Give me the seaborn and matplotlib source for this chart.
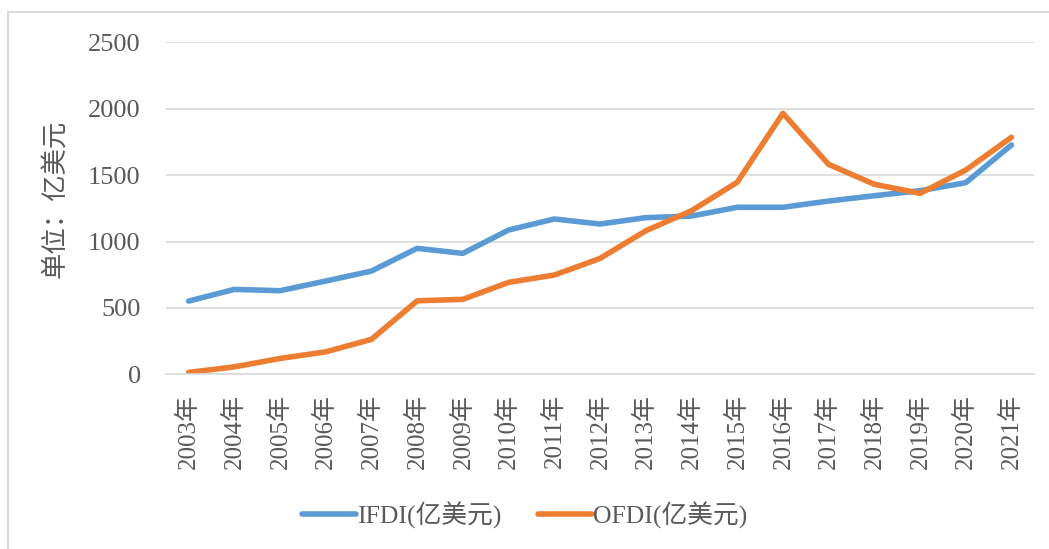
import pandas as pd
import matplotlib
matplotlib.use('Agg')
from matplotlib import pyplot as plt
from matplotlib.patches import Rectangle
import seaborn as sns

# values (亿美元)
years = [f'{y}年' for y in range(2003, 2022)]
ifdi = [552, 640, 630, 703, 778, 949, 911, 1087, 1170, 1132, 1180, 1192,
        1258, 1258, 1305, 1345, 1383, 1443, 1727]
ofdi = [15, 57, 120, 170, 264, 554, 565, 693, 748, 873, 1081, 1232,
        1446, 1965, 1581, 1431, 1363, 1538, 1785]
series_names = ['IFDI(亿美元)', 'OFDI(亿美元)']
colors = ['#5B9BD5', '#ED7D31']

sns.set_style('white')
plt.rcParams['font.family'] = ['Liberation Serif', 'Noto Sans CJK SC']
text_color = '#595959'

df = pd.DataFrame({
    'year': years * 2,
    'value': ifdi + ofdi,
    'series': [series_names[0]] * len(years) + [series_names[1]] * len(years),
})

fig = plt.figure(figsize=(10.49, 5.49), dpi=100)
ax = fig.add_axes([0.158, 0.318, 0.828, 0.605])

sns.lineplot(data=df, x='year', y='value', hue='series',
             palette=colors, linewidth=4, ax=ax, legend=False)

ax.set_xlim(-0.5, len(years) - 0.5)
ax.set_ylim(0, 2500)
ax.set_yticks(range(0, 2501, 500))
ax.grid(axis='y', color='#D9D9D9', linewidth=1.2)
ax.set_axisbelow(True)
for s in ax.spines.values():
    s.set_visible(False)
ax.spines['bottom'].set_visible(True)
ax.spines['bottom'].set_color('#D9D9D9')
ax.spines['bottom'].set_linewidth(1.2)

ax.tick_params(axis='y', length=0, pad=18, labelsize=19, labelcolor=text_color)
ax.tick_params(axis='x', length=0, pad=14, labelsize=18, labelcolor=text_color,
               labelrotation=90)
ax.set_xlabel('')
ax.set_ylabel('单位：亿美元', fontsize=19, color=text_color)
ax.yaxis.set_label_coords(-0.112, 0.53)

handles = [plt.Line2D([], [], color=c, linewidth=4, solid_capstyle='round')
           for c in colors]
fig.legend(handles, series_names, loc='center', bbox_to_anchor=(0.5, 0.062),
           ncol=2, frameon=False, fontsize=18.5, handlelength=2.1,
           handletextpad=0.05, columnspacing=1.4, labelcolor=text_color)

# light frame around the chart area as in the original
fig.patches.append(Rectangle((8 / 1049, -0.1), 1.2, 1.1 - 12 / 549,
                             transform=fig.transFigure, fill=False,
                             edgecolor='#D9D9D9', linewidth=1.5))

plt.savefig('out.png', dpi=100)
